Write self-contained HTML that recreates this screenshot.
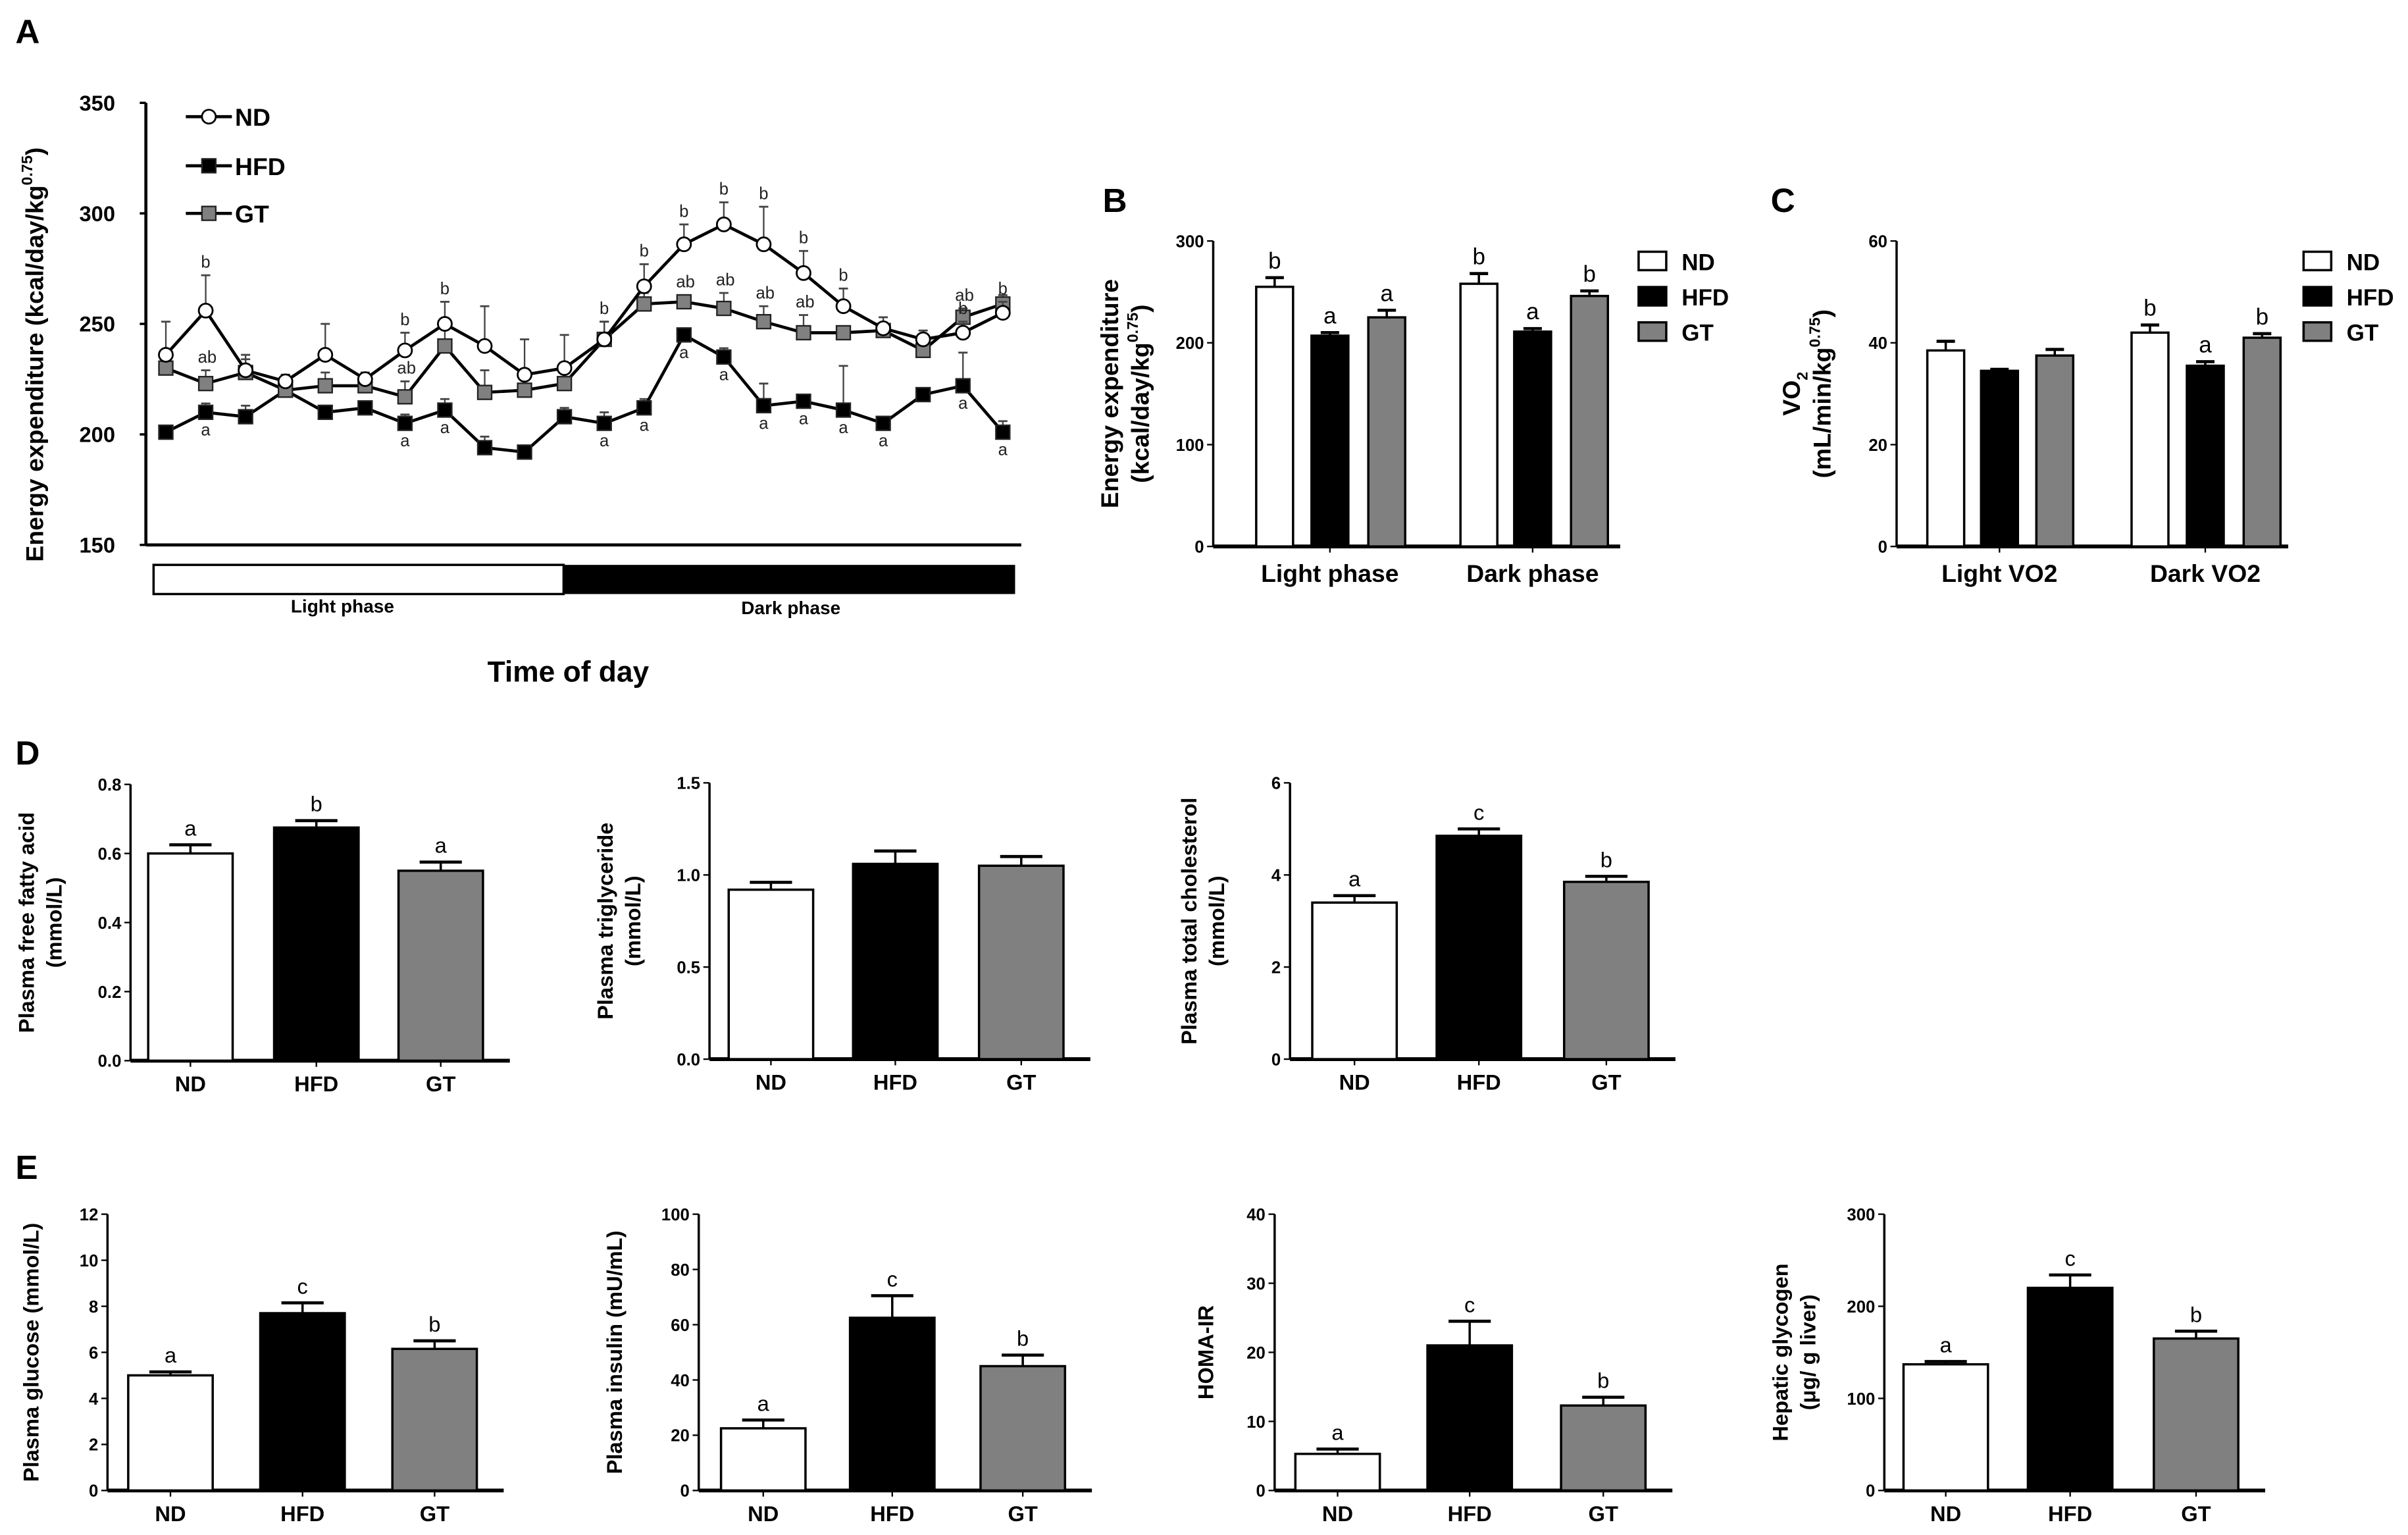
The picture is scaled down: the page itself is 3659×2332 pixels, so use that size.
<!DOCTYPE html>
<html><head><meta charset="utf-8"><style>
html,body{margin:0;padding:0;background:#fff;}
svg{display:block;font-family:"Liberation Sans",Arial,sans-serif;}
</style></head><body>
<svg id="fig" width="3659" height="2332" viewBox="0 0 1568 1000" preserveAspectRatio="none" xmlns="http://www.w3.org/2000/svg">
<g id="root"></g>
</svg>
<script>
// ---------- Panel A data ----------
const timeIdx = [1,2,3,4,5,6,7,8,9,10,11,12,13,14,15,16,17,18,19,20,21,22];
const ndVals  = [236,256,229,224,236,225,238,250,240,227,230,243,267,286,295,286,273,258,248,243,246,255];
const ndErr   = [15,16,5,3,14,3,8,10,18,16,15,8,10,9,10,17,10,8,5,4,5,5];
const hfdVals = [201,210,208,220,210,212,205,211,194,192,208,205,212,245,235,213,215,211,205,218,222,201];
const hfdErr  = [3,4,5,2,3,2,4,5,5,3,4,5,4,3,4,10,2,20,3,3,15,5];
const gtVals  = [230,223,228,220,222,222,217,240,219,220,223,243,259,260,257,251,246,246,247,238,253,259];
const gtErr   = [5,6,8,7,6,3,7,8,10,9,5,8,5,3,7,7,8,3,3,3,4,4];
const ndLbl  = ["","b","","","","","b","b","","","","b","b","b","b","b","b","b","","","b","b"];
const gtLbl  = ["","ab","","","","","ab","","","","","","","ab","ab","ab","ab","","","","ab",""];
const hfdLbl = ["","a","","","","","a","a","","","","a","a","a","a","a","a","a","a","","a","a"];
const aTicks = [150,200,250,300,350];

// ---------- Panel B/C data ----------
const bcGroups = ["ND","HFD","GT"];
const bLight = [255,207,225], bLightErr=[9,3,7], bLightLbl=["b","a","a"];
const bDark  = [258,211,246], bDarkErr=[10,3,5], bDarkLbl=["b","a","b"];
const bTicks = [0,100,200,300];
const cLight = [38.5,34.5,37.5], cLightErr=[1.8,0.3,1.2], cLightLbl=["","",""];
const cDark  = [42,35.5,41], cDarkErr=[1.5,0.8,0.8], cDarkLbl=["b","a","b"];
const cTicks = [0,20,40,60];

// ---------- Panel D/E data ----------
const groups = ["ND","HFD","GT"];
const d1Vals=[0.60,0.675,0.55], d1Err=[0.025,0.02,0.025], d1Lbl=["a","b","a"], d1Ticks=[0,0.2,0.4,0.6,0.8];
const d2Vals=[0.92,1.06,1.05], d2Err=[0.04,0.07,0.05], d2Lbl=["","",""], d2Ticks=[0,0.5,1.0,1.5];
const d3Vals=[3.4,4.85,3.85], d3Err=[0.15,0.15,0.12], d3Lbl=["a","c","b"], d3Ticks=[0,2,4,6];
const e1Vals=[5.0,7.7,6.15], e1Err=[0.15,0.45,0.35], e1Lbl=["a","c","b"], e1Ticks=[0,2,4,6,8,10,12];
const e2Vals=[22.5,62.5,45], e2Err=[3,8,4], e2Lbl=["a","c","b"], e2Ticks=[0,20,40,60,80,100];
const e3Vals=[5.3,21,12.3], e3Err=[0.7,3.5,1.2], e3Lbl=["a","c","b"], e3Ticks=[0,10,20,30,40];
const e4Vals=[137,220,165], e4Err=[3,14,8], e4Lbl=["a","c","b"], e4Ticks=[0,100,200,300];

const NS="http://www.w3.org/2000/svg";
const root=document.getElementById('root');
function mk(tag,attrs,parent,text){const e=document.createElementNS(NS,tag);for(const k in attrs)e.setAttribute(k,attrs[k]);if(text!==undefined)e.textContent=text;(parent||root).appendChild(e);return e;}
function fmt(v){return (Math.abs(v)<1&&v!==0)||String(v).includes('.')?v.toFixed(1):String(v);}

// Panel letters
[["A",10,28],["B",718,138],["C",1153,138],["D",10,498],["E",10,768]].forEach(p=>{
  const t=mk('text',{x:p[1],y:p[2],'font-size':22,'font-weight':'bold'},root,p[0]);
  
  
});

// ---------- Panel A ----------
(function(){
  const g=mk('g',{});
  
  
  const x0=95,x1=665,yT=67,yB=355,vMin=150,vMax=350;
  const ys=v=>yB-(v-vMin)/(vMax-vMin)*(yB-yT);
  const xs=i=>108+(i-1)*(653-108)/21;
  mk('line',{x1:x0,y1:yT,x2:x0,y2:yB,stroke:'#000','stroke-width':2},g);
  mk('line',{x1:x0,y1:yB,x2:x1,y2:yB,stroke:'#000','stroke-width':2},g);
  aTicks.forEach(t=>{
    mk('line',{x1:x0-4,y1:ys(t),x2:x0,y2:ys(t),stroke:'#000','stroke-width':1.5},g);
    const tl=mk('text',{x:x0-20,y:ys(t)+5,'font-size':14,'font-weight':'bold','text-anchor':'end'},g,t);
    
    
  });
  const yt=mk('text',{transform:`translate(28,${(yT+yB)/2+20}) rotate(-90)`,'font-size':16,'font-weight':'bold','text-anchor':'middle'},g);
  yt.innerHTML='Energy expenditure (kcal/day/kg<tspan dy="-7" font-size="10">0.75</tspan><tspan dy="7">)</tspan>';
  
  
  // phase bar
  const lb=mk('rect',{x:100,y:368,width:267,height:19,fill:'#fff',stroke:'#000','stroke-width':1.5},g);
  
  
  const db=mk('rect',{x:367,y:368,width:294,height:19,fill:'#000'},g);
  
  
  mk('text',{x:223,y:399,'font-size':12,'font-weight':'bold','text-anchor':'middle'},g,'Light phase');
  mk('text',{x:515,y:400,'font-size':12,'font-weight':'bold','text-anchor':'middle'},g,'Dark phase');
  const xt=mk('text',{x:370,y:444,'font-size':19,'font-weight':'bold','text-anchor':'middle'},g,'Time of day');
  
  
  const series=[
    {name:'hfd',vals:hfdVals,err:hfdErr,fill:'#000',shape:'sq',lbl:hfdLbl,below:true},
    {name:'gt',vals:gtVals,err:gtErr,fill:'#808080',shape:'sq',lbl:gtLbl,below:false},
    {name:'nd',vals:ndVals,err:ndErr,fill:'#fff',shape:'ci',lbl:ndLbl,below:false}];
  series.forEach(s=>{
    const sg=mk('g',{},g);
    
    
    timeIdx.forEach((t,i)=>{
      const x=xs(t),y=ys(s.vals[i]),ye=ys(s.vals[i]+s.err[i]);
      mk('line',{x1:x,y1:y,x2:x,y2:ye,stroke:'#444','stroke-width':1},sg);
      mk('line',{x1:x-3,y1:ye,x2:x+3,y2:ye,stroke:'#444','stroke-width':1.2},sg);
    });
    const pts=timeIdx.map((t,i)=>xs(t)+','+ys(s.vals[i])).join(' ');
    mk('polyline',{points:pts,fill:'none',stroke:'#000','stroke-width':2},sg);
    timeIdx.forEach((t,i)=>{
      const x=xs(t),y=ys(s.vals[i]);
      let m;
      if(s.shape==='ci') m=mk('circle',{cx:x,cy:y,r:4.5,fill:s.fill,stroke:'#000','stroke-width':1.2},sg);
      else m=mk('rect',{x:x-4.5,y:y-4.5,width:9,height:9,fill:s.fill,stroke:'#222','stroke-width':1},sg);
      
      
      if(s.lbl[i]){
        const ly=s.below?y+15:ys(s.vals[i]+s.err[i])-5;
        mk('text',{x:x+(s.name==='gt'?1:0),y:ly,'font-size':11,'text-anchor':'middle',fill:'#222'},sg,s.lbl[i]);
      }
    });
  });
  // legend
  const leg=[['ND','ci','#fff',76],['HFD','sq','#000',108],['GT','sq','#808080',139]];
  leg.forEach(l=>{
    const lg=mk('g',{},g);
    
    
    mk('line',{x1:121,y1:l[3],x2:151,y2:l[3],stroke:'#000','stroke-width':2},lg);
    if(l[1]==='ci') mk('circle',{cx:136,cy:l[3],r:4.5,fill:'#fff',stroke:'#000','stroke-width':1.2},lg);
    else mk('rect',{x:131.5,y:l[3]-4.5,width:9,height:9,fill:l[2],stroke:'#222'},lg);
    mk('text',{x:153,y:l[3]+6,'font-size':16,'font-weight':'bold'},lg,l[0]);
  });
})();

// ---------- generic bar chart ----------
const fills=['#fff','#000','#808080'];
function barChart(o){
  const g=mk('g',{});
  
  
  const vMax=o.ticks[o.ticks.length-1];
  const ys=v=>o.yB-v/vMax*(o.yB-o.yT);
  mk('line',{x1:o.ax,y1:o.yT,x2:o.ax,y2:o.yB,stroke:'#000','stroke-width':1.5},g);
  mk('line',{x1:o.ax,y1:o.yB,x2:o.axEnd,y2:o.yB,stroke:'#000','stroke-width':2.5},g);
  o.ticks.forEach(t=>{
    mk('line',{x1:o.ax-4,y1:ys(t),x2:o.ax,y2:ys(t),stroke:'#000','stroke-width':1},g);
    const tl=mk('text',{x:o.ax-6,y:ys(t)+4,'font-size':11,'font-weight':'bold','text-anchor':'end'},g,o.fmt?o.fmt(t):t);
    
    
  });
  const yt=mk('text',{transform:`translate(${o.tx},${(o.yT+o.yB)/2}) rotate(-90)`,'font-size':o.tfs||14,'font-weight':'bold','text-anchor':'middle'},g);
  yt.innerHTML=o.title;
  
  
  o.sets.forEach(s=>{
    s.vals.forEach((v,i)=>{
      const cx=s.cx[i],w=o.bw;
      const top=ys(v),et=ys(v+s.err[i]);
      mk('line',{x1:cx,y1:top,x2:cx,y2:et,stroke:'#000','stroke-width':1.5},g);
      mk('line',{x1:cx-w*0.25,y1:et,x2:cx+w*0.25,y2:et,stroke:'#000','stroke-width':2},g);
      const b=mk('rect',{x:cx-w/2,y:top,width:w,height:o.yB-top,fill:fills[i],stroke:'#000','stroke-width':1.5},g);
      
      
      if(s.lbl[i]) mk('text',{x:cx,y:et-6,'font-size':o.lfs||14,'text-anchor':'middle'},g,s.lbl[i]);
    });
    if(s.xlabel){
      mk('line',{x1:s.cx[1],y1:o.yB,x2:s.cx[1],y2:o.yB+4,stroke:'#000','stroke-width':1},g);
      const xl=mk('text',{x:s.cx[1],y:o.yB+23,'font-size':16,'font-weight':'bold','text-anchor':'middle'},g,s.xlabel);
      
      
    }
  });
  if(o.catLabels){
    o.sets[0].cx.forEach((cx,i)=>{
      mk('line',{x1:cx,y1:o.yB,x2:cx,y2:o.yB+4,stroke:'#000','stroke-width':1},g);
      const xl=mk('text',{x:cx,y:o.yB+20,'font-size':14,'font-weight':'bold','text-anchor':'middle'},g,o.cats[i]);
      
      
    });
  }
  if(o.legendX){
    o.cats.forEach((c,i)=>{
      const lg=mk('g',{},g);
      
      
      const y=o.legendY+i*23;
      mk('rect',{x:o.legendX,y:y-6,width:18,height:12,fill:fills[i],stroke:'#000','stroke-width':1.5},lg);
      mk('text',{x:o.legendX+28,y:y+6,'font-size':15,'font-weight':'bold'},lg,c);
    });
  }
}

barChart({name:'panel-b-energy-bars',cats:bcGroups,ax:790,axEnd:1055,yT:157,yB:356,bw:24,ticks:bTicks,tx:736,tfs:16,
  title:'<tspan x="0" dy="-8">Energy expenditure</tspan><tspan x="0" dy="20">(kcal/day/kg</tspan><tspan dy="-7" font-size="10">0.75</tspan><tspan dy="7">)</tspan>',
  sets:[{vals:bLight,err:bLightErr,lbl:bLightLbl,cx:[830,866,903],xlabel:'Light phase'},
        {vals:bDark,err:bDarkErr,lbl:bDarkLbl,cx:[963,998,1035],xlabel:'Dark phase'}],
  legendX:1067,legendY:170,lfs:15});
barChart({name:'panel-c-vo2-bars',cats:bcGroups,ax:1235,axEnd:1490,yT:157,yB:356,bw:24,ticks:cTicks,tx:1180,tfs:16,
  title:'<tspan x="0" dy="-8">VO</tspan><tspan font-size="10" dy="5">2</tspan><tspan x="0" dy="15">(mL/min/kg</tspan><tspan dy="-7" font-size="10">0.75</tspan><tspan dy="7">)</tspan>',
  sets:[{vals:cLight,err:cLightErr,lbl:cLightLbl,cx:[1267,1302,1338],xlabel:'Light VO2'},
        {vals:cDark,err:cDarkErr,lbl:cDarkLbl,cx:[1400,1436,1473],xlabel:'Dark VO2'}],
  legendX:1500,legendY:170,lfs:15});

function small(name,ax,centers,vals,err,lbl,ticks,yT,yB,title,tx,f){
  barChart({name,cats:groups,ax,axEnd:centers[2]+45,yT,yB,bw:55,ticks,tx,tfs:14,title,fmt:f,catLabels:true,
    sets:[{vals,err,lbl,cx:centers}]});
}
const f1=v=>v.toFixed(1);
small('panel-d-ffa-bars',85,[124,206,287],d1Vals,d1Err,d1Lbl,d1Ticks,511,691,'<tspan x="0" dy="-6">Plasma free fatty acid</tspan><tspan x="0" dy="18">(mmol/L)</tspan>',28,f1);
small('panel-d-tg-bars',462,[502,583,665],d2Vals,d2Err,d2Lbl,d2Ticks,510,690,'<tspan x="0" dy="-6">Plasma triglyceride</tspan><tspan x="0" dy="18">(mmol/L)</tspan>',405,f1);
small('panel-d-tc-bars',840,[882,963,1046],d3Vals,d3Err,d3Lbl,d3Ticks,510,690,'<tspan x="0" dy="-6">Plasma total cholesterol</tspan><tspan x="0" dy="18">(mmol/L)</tspan>',785);
small('panel-e-glucose-bars',70,[111,197,283],e1Vals,e1Err,e1Lbl,e1Ticks,791,971,'Plasma glucose (mmol/L)',25);
small('panel-e-insulin-bars',455,[497,581,666],e2Vals,e2Err,e2Lbl,e2Ticks,791,971,'Plasma insulin (mU/mL)',405);
small('panel-e-homa-bars',830,[871,957,1044],e3Vals,e3Err,e3Lbl,e3Ticks,791,971,'HOMA-IR',790);
small('panel-e-glycogen-bars',1227,[1267,1348,1430],e4Vals,e4Err,e4Lbl,e4Ticks,791,971,'<tspan x="0" dy="-6">Hepatic glycogen</tspan><tspan x="0" dy="18">(μg/ g liver)</tspan>',1170);
</script>
</body></html>
